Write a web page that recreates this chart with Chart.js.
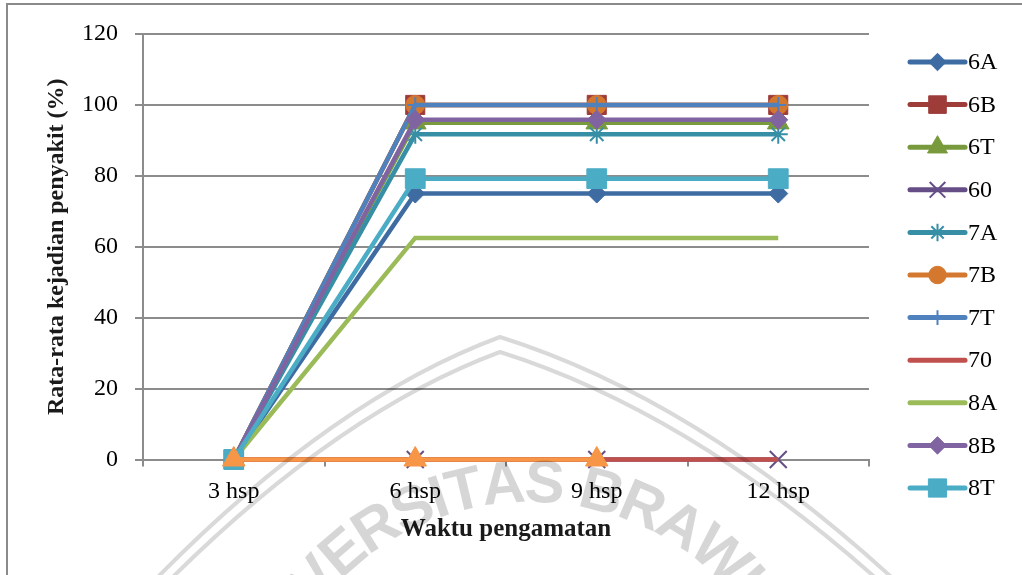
<!DOCTYPE html>
<html>
<head>
<meta charset="utf-8">
<script src="https://cdn.jsdelivr.net/npm/chart.js@4/dist/chart.umd.min.js"></script>
<style>
  html, body { margin: 0; padding: 0; background: #ffffff; }
  #wrap { width: 1022px; height: 575px; position: relative; overflow: hidden; }
</style>
</head>
<body>
<div id="wrap"><canvas id="c" width="1022" height="575"></canvas></div>
<script>
// Observation times and y-axis ticks
const categories = ['3 hsp', '6 hsp', '9 hsp', '12 hsp'];
const yTicks = [0, 20, 40, 60, 80, 100, 120];

// Average disease incidence (%) per treatment
const seriesNames = ['6A', '6B', '6T', '60', '7A', '7B', '7T', '70', '8A', '8B', '8T', '80'];
const s6A = [0, 75, 75, 75];
const s6B = [0, 100, 100, 100];
const s6T = [0, 95, 95, 95];
const s60 = [0, 0, 0, 0];
const s7A = [0, 91.7, 91.7, 91.7];
const s7B = [0, 100, 100, 100];
const s7T = [0, 100, 100, 100];
const s70 = [0, 0, 0, 0];
const s8A = [0, 62.5, 62.5, 62.5];
const s8B = [0, 95.8, 95.8, 95.8];
const s8T = [0, 79.2, 79.2, 79.2];
const s80 = [0, 0, 0, null];
const seriesValues = [s6A, s6B, s6T, s60, s7A, s7B, s7T, s70, s8A, s8B, s8T, s80];

// Series styling
const lineColors = ['#3E6CA2', '#9E3C3A', '#789A3D', '#654E86', '#378FA6', '#D4782F',
                    '#4F81BD', '#C0504D', '#9BBB59', '#8064A2', '#4BACC6', '#F79646'];
const markerStyles = ['rectRot', 'rect', 'triangle', 'crossRot', 'star', 'circle',
                      'cross', false, false, 'rectRot', 'rect', 'triangle'];
const markerRadius = [9.5, 13.5, 12.5, 12, 9.5, 9.5, 8, 0, 0, 9.5, 14, 13];
const markerBorder = [1, 1, 1, 2, 2, 1, 2, 0, 0, 1, 1, 1];
const inLegend = [true, true, true, true, true, true, true, true, true, true, true, false];

const serif = "'Liberation Serif', 'Times New Roman', serif";
const gridGray = '#8c8c8c';

const datasets = seriesNames.map((name, i) => ({
  label: name,
  data: seriesValues[i],
  borderColor: lineColors[i],
  backgroundColor: lineColors[i],
  borderWidth: 4.5,
  pointStyle: markerStyles[i] || 'circle',
  pointRadius: markerStyles[i] ? markerRadius[i] : 0,
  pointHoverRadius: markerStyles[i] ? markerRadius[i] : 0,
  pointBackgroundColor: lineColors[i],
  pointBorderColor: lineColors[i],
  pointBorderWidth: markerBorder[i],
  tension: 0,
  spanGaps: false,
  clip: false,
  order: -i
}));

// Outer frame of the chart
const framePlugin = {
  id: 'frame',
  beforeDraw(chart) {
    const ctx = chart.ctx;
    ctx.save();
    ctx.fillStyle = '#ffffff';
    ctx.fillRect(0, 0, chart.width, chart.height);
    ctx.strokeStyle = '#8a8a8a';
    ctx.lineWidth = 2;
    ctx.strokeRect(7, 4, chart.width + 40, chart.height + 40);
    ctx.restore();
  }
};

// Vertical legend: line sample with marker, then label
const legendPlugin = {
  id: 'sideLegend',
  afterDraw(chart) {
    const ctx = chart.ctx;
    const x0 = 910, x1 = 965, xm = 937.5, tx = 968;
    let row = 0;
    ctx.save();
    chart.data.datasets.forEach((ds, i) => {
      if (!inLegend[i]) return;
      const y = 62 + row * 42.6;
      row++;
      ctx.strokeStyle = ds.borderColor;
      ctx.lineWidth = 5;
      ctx.lineCap = 'round';
      ctx.beginPath();
      ctx.moveTo(x0, y);
      ctx.lineTo(x1, y);
      ctx.stroke();
      if (markerStyles[i] && Chart.helpers && Chart.helpers.drawPoint) {
        ctx.fillStyle = ds.pointBackgroundColor;
        ctx.strokeStyle = ds.pointBorderColor;
        ctx.lineWidth = markerBorder[i];
        ctx.lineCap = 'butt';
        Chart.helpers.drawPoint(ctx, {
          pointStyle: markerStyles[i],
          radius: markerRadius[i] * 0.92,
          borderWidth: markerBorder[i],
          rotation: 0
        }, xm, y);
      }
      ctx.fillStyle = '#000000';
      ctx.font = '24px ' + serif;
      ctx.textAlign = 'left';
      ctx.textBaseline = 'middle';
      ctx.fillText(ds.label, tx, y + 1);
    });
    ctx.restore();
  }
};

// Faint university emblem in the background
const watermarkPlugin = {
  id: 'watermark',
  afterDraw(chart) {
    const ctx = chart.ctx;
    ctx.save();
    ctx.strokeStyle = 'rgba(0,0,0,0.15)';
    ctx.lineWidth = 4;
    const roof = (dy) => {
      ctx.beginPath();
      ctx.moveTo(150, 585 + dy);
      ctx.quadraticCurveTo(330, 400 + dy, 500, 337 + dy);
      ctx.quadraticCurveTo(700, 400 + dy, 900, 585 + dy);
      ctx.stroke();
    };
    roof(0);
    roof(15);

    const text = 'UNIVERSITAS BRAWIJAYA';
    const cx = 530, cy = 770, rBase = 268;
    ctx.font = "bold 60px 'Liberation Sans', Arial, sans-serif";
    ctx.fillStyle = 'rgba(0,0,0,0.16)';
    ctx.textAlign = 'center';
    ctx.textBaseline = 'alphabetic';
    const widths = [...text].map(ch => ctx.measureText(ch).width);
    const total = widths.reduce((a, b) => a + b, 0);
    const rMid = rBase + 21;
    let ang = (4.6 * Math.PI / 180) - (total / 2) / rMid;
    [...text].forEach((ch, k) => {
      const a = ang + (widths[k] / 2) / rMid;
      ctx.save();
      ctx.translate(cx + rBase * Math.sin(a), cy - rBase * Math.cos(a));
      ctx.rotate(a);
      ctx.fillText(ch, 0, 0);
      ctx.restore();
      ang += widths[k] / rMid;
    });
    ctx.restore();
  }
};

new Chart(document.getElementById('c'), {
  type: 'line',
  data: { labels: categories, datasets },
  plugins: [framePlugin, watermarkPlugin, legendPlugin],
  options: {
    responsive: false,
    devicePixelRatio: 1,
    animation: false,
    events: [],
    layout: { padding: { top: 34, right: 153, left: 0, bottom: 0 } },
    plugins: {
      legend: { display: false },
      tooltip: { enabled: false }
    },
    scales: {
      x: {
        type: 'category',
        offset: true,
        grid: {
          display: true,
          offset: true,
          drawOnChartArea: false,
          drawTicks: true,
          tickLength: 7,
          color: gridGray,
          lineWidth: 2
        },
        border: { display: true, color: gridGray, width: 2 },
        ticks: {
          color: '#000000',
          font: { family: serif, size: 24 },
          padding: 11,
          maxRotation: 0,
          autoSkip: false
        },
        title: {
          display: true,
          text: 'Waktu pengamatan',
          color: '#1a1a1a',
          font: { family: serif, size: 25, weight: 'bold' },
          padding: { top: 0, bottom: 30 }
        },
        afterFit(scale) { scale.height = 115.5; }
      },
      y: {
        min: 0,
        max: 120,
        afterBuildTicks(scale) { scale.ticks = yTicks.map(v => ({ value: v })); },
        grid: {
          display: true,
          drawTicks: true,
          tickLength: 8,
          color: gridGray,
          lineWidth: 2
        },
        border: { display: true, color: gridGray, width: 2 },
        ticks: {
          color: '#000000',
          font: { family: serif, size: 24 },
          padding: 17
        },
        title: {
          display: true,
          text: 'Rata-rata kejadian penyakit (%)',
          color: '#1a1a1a',
          font: { family: serif, size: 24, weight: 'bold' },
          padding: { top: 42, bottom: 0 }
        },
        afterFit(scale) { scale.width = 143; }
      }
    }
  }
});
</script>
</body>
</html>
